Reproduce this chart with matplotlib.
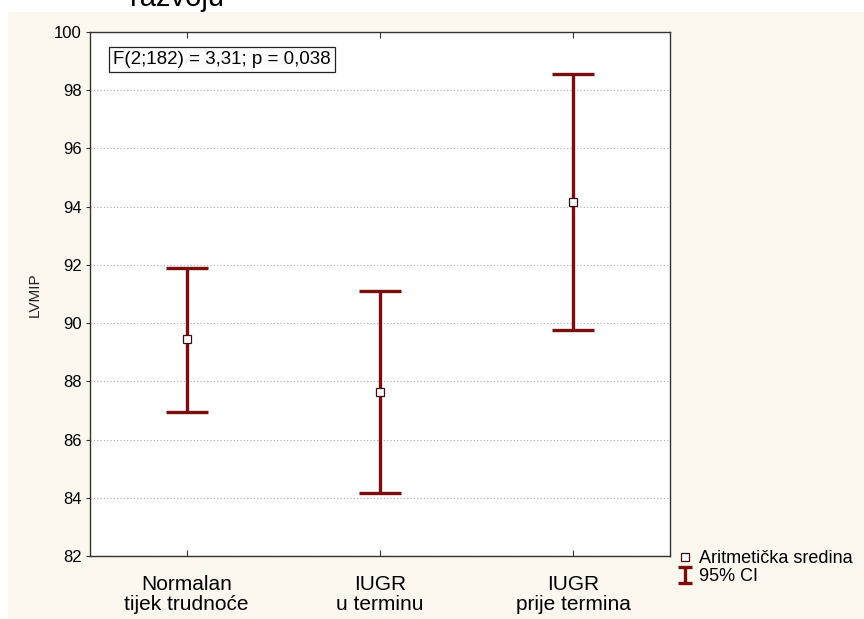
import numpy as np
import matplotlib
matplotlib.use("Agg")
import matplotlib.pyplot as plt
from matplotlib.lines import Line2D
from matplotlib.path import Path
from matplotlib.patches import Rectangle

plt.rcParams['font.family'] = ['Liberation Sans', 'DejaVu Sans']

# data
groups = ['Normalan\ntijek trudnoće', 'IUGR\nu terminu', 'IUGR\nprije termina']
means = np.array([89.45, 87.65, 94.17])
ci_low = np.array([86.95, 84.15, 89.76])
ci_high = np.array([91.9, 91.1, 98.55])
y_ticks = [82, 84, 86, 88, 90, 92, 94, 96, 98, 100]

bar_color = '#7a0d0d'
cream = '#fcf8f0'
W, H = 864, 619

fig = plt.figure(figsize=(8.64, 6.19), dpi=100, facecolor='white')
# cream panel behind the chart
fig.patches.append(Rectangle((8 / W, -0.01), 1, 1.01 - 12 / H, transform=fig.transFigure,
                             facecolor=cream, edgecolor='none', zorder=-5))

ax = fig.add_axes([90 / W, 1 - 556 / H, 580 / W, 524 / H])
ax.set_zorder(2)
ax.set_facecolor('white')

x = np.arange(len(groups))
yerr = np.vstack([means - ci_low, ci_high - means])
ax.errorbar(x, means, yerr=yerr, fmt='none', ecolor=bar_color, elinewidth=2.4,
            capsize=15, capthick=2.4, zorder=3)
ax.plot(x, means, ls='none', marker='s', markersize=6, markerfacecolor='white',
        markeredgecolor='#3a1010', markeredgewidth=0.9, zorder=4)

ax.set_xlim(-0.5, 2.5)
ax.set_ylim(82, 100)
ax.set_yticks(y_ticks)
ax.set_xticks(x)
ax.set_xticklabels(groups, fontsize=15, linespacing=1.05)
ax.tick_params(axis='x', direction='in', top=True, length=4, pad=14, color='#333333')
ax.tick_params(axis='y', direction='out', length=3, labelsize=12, pad=3, color='#333333')
ax.grid(axis='y', color='#b0b0b0', linestyle=(0, (1, 2)), linewidth=0.8)
for s in ax.spines.values():
    s.set_color('#333333')
    s.set_linewidth(1.0)

ax.text(23 / 580, 0.947, 'F(2;182) = 3,31; p = 0,038', transform=ax.transAxes,
        fontsize=13.5, va='center', ha='left',
        bbox=dict(boxstyle='square,pad=0.22', facecolor='white', edgecolor='#222222', linewidth=0.9))

fig.text(35 / W, 1 - 295 / H, 'LVMIP', rotation=90, fontsize=11, va='center', ha='center',
         color='#222222')

# cut-off title at the very top
fig.text(130 / W, 1 - 6 / H, 'razvoju', fontsize=21, va='baseline', ha='left', zorder=-10)

# legend
ibeam = Path([(-0.8, -1), (0.8, -1), (0, -1), (0, 1), (-0.8, 1), (0.8, 1)],
             [Path.MOVETO, Path.LINETO, Path.MOVETO, Path.LINETO, Path.MOVETO, Path.LINETO])
handles = [
    Line2D([], [], ls='none', marker='s', markersize=6, markerfacecolor='white',
           markeredgecolor='#3a1010', markeredgewidth=0.9),
    Line2D([], [], ls='none', marker=ibeam, markersize=12, markerfacecolor='none',
           markeredgecolor=bar_color, markeredgewidth=2.4),
]
fig.legend(handles, ['Aritmetička sredina', '95% CI'], loc='upper left',
           bbox_to_anchor=(676 / W, 1 - 550 / H), frameon=False, fontsize=13,
           handlelength=1.0, handletextpad=0.3, borderpad=0, borderaxespad=0,
           labelspacing=0.05)

fig.savefig('out.png', dpi=100, facecolor=fig.get_facecolor())
